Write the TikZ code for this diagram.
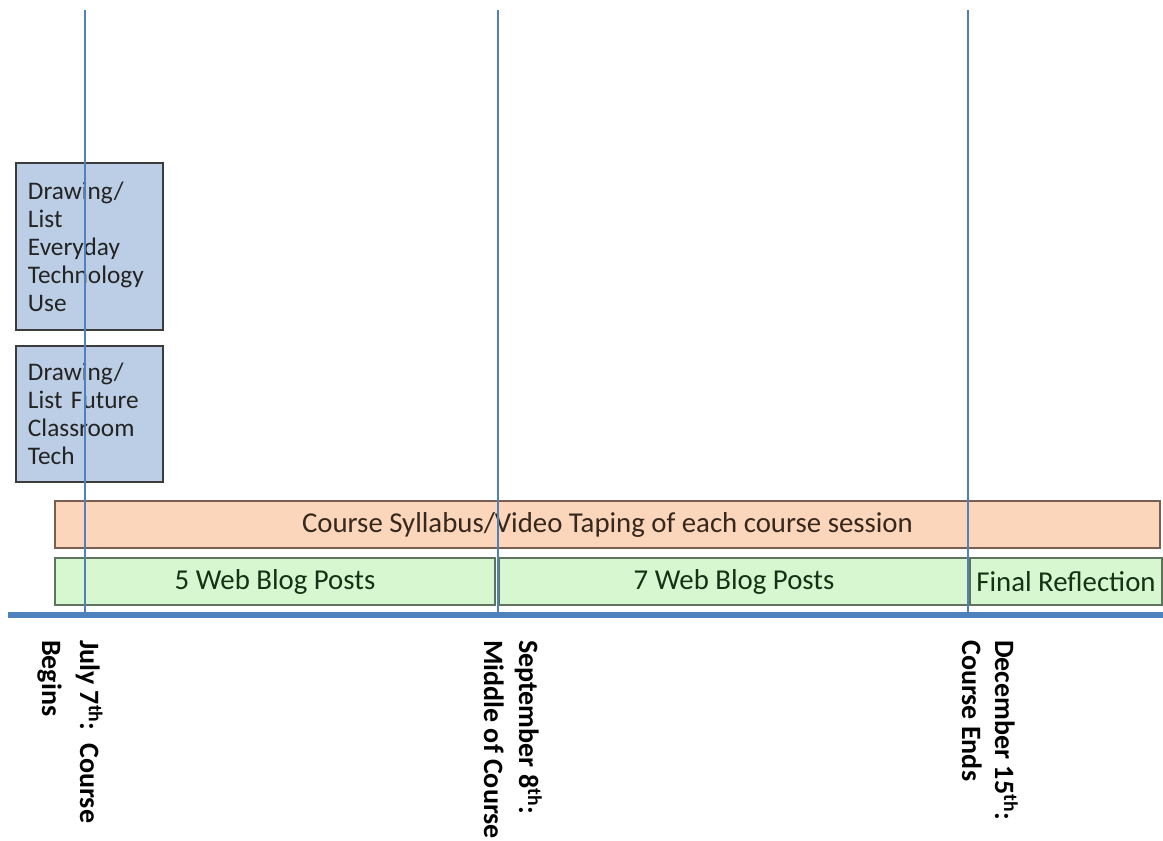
\documentclass[tikz,border=0pt]{standalone}
\usepackage{fontspec}
\setmainfont{Carlito}
\definecolor{lineblue}{RGB}{79,129,189}
\definecolor{boxfill}{RGB}{187,206,229}
\definecolor{boxdraw}{RGB}{60,60,60}
\definecolor{orfill}{RGB}{251,214,186}
\definecolor{ordraw}{RGB}{120,95,80}
\definecolor{ortext}{RGB}{55,40,30}
\definecolor{grfill}{RGB}{214,247,208}
\definecolor{grdraw}{RGB}{95,115,95}
\definecolor{grtext}{RGB}{20,50,20}
\definecolor{boxtext}{RGB}{35,35,35}
\begin{document}
\begin{tikzpicture}[x=1bp,y=-1bp,
  tbox/.style={draw=boxdraw, line width=1.2bp, fill=boxfill, text=boxtext,
    inner xsep=12bp, inner ysep=0pt, align=left, text width=123bp,
    font=\fontsize{25.3bp}{28bp}\selectfont},
  orbar/.style={draw=ordraw, line width=1.3bp, fill=orfill, text=ortext,
    inner sep=0pt, font=\fontsize{28.8bp}{32bp}\selectfont},
  grbar/.style={draw=grdraw, line width=1.3bp, fill=grfill, text=grtext,
    inner sep=0pt, font=\fontsize{28.8bp}{32bp}\selectfont},
  vline/.style={draw=lineblue, line width=2.8bp},
  axisline/.style={draw=lineblue, line width=6bp},
  lab/.style={rotate=-90, anchor=base west, inner sep=0pt, text=black,
    font=\bfseries\fontsize{28bp}{32bp}\selectfont}
]
\useasboundingbox (0,0) rectangle (1163,841);
\fill[white] (0,0) rectangle (1163,841);

% left boxes
\node[tbox, minimum width=145bp, minimum height=167bp] (b1) at (89.5,246.5)
  {Drawing/\\List\\Everyday\\Technology\\Use};
\node[tbox, minimum width=145bp, minimum height=136bp] (b2) at (89.5,414)
  {Drawing/\\List Future\\Classroom\\Tech};

% bars
\node[orbar, minimum width=1105bp, minimum height=47bp] (syl) at (607.5,524.5)
  {Course Syllabus/Video Taping of each course session};
\node[grbar, minimum width=440bp, minimum height=47bp] (g1) at (275,581.5)
  {5 Web Blog Posts};
\node[grbar, minimum width=470bp, minimum height=47bp] (g2) at (734,581.5)
  {7 Web Blog Posts};
\node[grbar, minimum width=192bp, minimum height=47bp] (g3) at (1066,581.5)
  {Final Reflection};

% axis
\coordinate (axL) at (8,615);
\coordinate (axR) at (1163,615);
\draw[axisline] (axL) -- (axR);

% vertical milestone lines
\coordinate (t1) at (85,10);   \coordinate (a1) at (85,615);
\coordinate (t2) at (498,10);  \coordinate (a2) at (498,615);
\coordinate (t3) at (968,10);  \coordinate (a3) at (968,617);
\draw[vline] (t1) -- (a1);
\draw[vline] (t2) -- (a2);
\draw[vline] (t3) -- (a3);

% date labels
\node[lab] (l1a) at (80,640) {July 7\textsuperscript{th}:\ \ Course};
\node[lab] (l1b) at (42,640) {Begins};
\node[lab] (l2a) at (519,640) {September 8\textsuperscript{th}:};
\node[lab] (l2b) at (484,640) {Middle of Course};
\node[lab] (l3a) at (995,640) {December 15\textsuperscript{th}:};
\node[lab] (l3b) at (962,640) {Course Ends};
\end{tikzpicture}
\end{document}
